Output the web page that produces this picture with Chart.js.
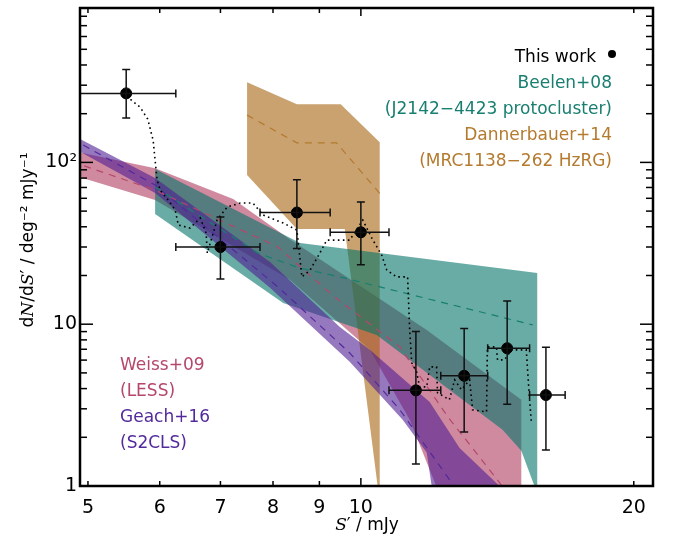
<!DOCTYPE html>
<html>
<head>
<meta charset="utf-8">
<script src="https://cdn.jsdelivr.net/npm/chart.js@4.4.1/dist/chart.umd.min.js"></script>
<style>
  html, body { margin: 0; padding: 0; background: #fff; }
  #wrap { width: 675px; height: 540px; }
</style>
</head>
<body>
<div id="wrap"><canvas id="counts"></canvas></div>
<script>
// This work (flux bins in mJy, counts in deg^-2 mJy^-1)
const fluxMid = [5.51, 7.0, 8.5, 10.0, 11.5, 13.0, 14.5, 16.0];
const fluxLow = [4.8, 6.25, 7.74, 9.25, 10.74, 12.25, 13.8, 15.35];
const fluxHigh = [6.25, 7.74, 9.25, 10.74, 12.25, 13.8, 15.35, 16.8];
const counts = [267, 30, 49, 37, 3.9, 4.8, 7.1, 3.65];
const countsLow = [188, 19, 29.4, 23.3, 1.37, 2.16, 3.2, 1.67];
const countsHigh = [375, 46, 78, 57, 9.0, 9.4, 13.9, 7.2];

// dotted curve
const dottedCurve = [
  [5.57, 245], [5.71, 219], [5.82, 185], [5.90, 137], [5.93, 103], [5.96, 78],
  [6.01, 67], [6.13, 58.5], [6.24, 50.8], [6.29, 41], [6.48, 39.3], [6.65, 45.3],
  [6.75, 36.6], [6.77, 27.5], [6.94, 44], [7.12, 53], [7.36, 56.1], [7.60, 56.1],
  [7.80, 47.3], [8.21, 42.2], [8.50, 38.2], [8.57, 24.9], [8.61, 19.6], [8.79, 21.6],
  [9.01, 27.5], [9.17, 33.1], [9.72, 33.1], [10.05, 44], [10.28, 34.1], [10.54, 26.8],
  [10.68, 21.6], [10.95, 19.6], [11.26, 19.6], [11.32, 9.22], [11.38, 5.77], [11.52, 5.08],
  [11.61, 4.10], [11.82, 4.10], [11.91, 5.45], [12.12, 5.45], [12.15, 3.77], [12.52, 3.41],
  [12.69, 4.53], [12.91, 3.93], [13.18, 4.53], [13.28, 2.96], [13.76, 2.87], [13.79, 7.24],
  [14.11, 7.24], [14.15, 6.02], [14.40, 6.02], [14.66, 6.94], [15.22, 6.94], [15.34, 3.6],
  [15.42, 2.46]
];

// literature bands (outline) and best fits
const beelenBand = [[5.93, 90.9], [8.57, 31.8], [15.65, 20.7], [15.65, 0.9], [15.03, 1.65], [14.33, 2.23], [10.41, 8.59], [8.21, 13.5], [5.93, 48.0]];
const beelenFit = [[5.93, 70.4], [7.70, 27.5], [8.57, 22.2], [9.48, 19.6], [15.47, 9.9]];
const dannerbauerBand = [[7.49, 313], [8.50, 229], [9.50, 229], [10.49, 133], [10.49, 0.9], [10.46, 0.9], [9.60, 38.7], [8.50, 38.7], [7.49, 83.5]];
const dannerbauerFit = [[7.49, 196], [8.50, 132], [9.40, 132], [10.49, 64.4]];
const weissBand = [[4.8, 118], [5.93, 92], [7.23, 59.4], [8.31, 34.1], [11.82, 9.22], [15.03, 3.41], [15.03, 0.9], [12.2, 0.9], [11.32, 2.57], [10.23, 6.94], [8.35, 18.8], [5.93, 58.5], [4.8, 84]];
const weissFit = [[4.8, 101], [5.93, 67.4], [8.10, 30.0], [9.36, 14.7], [11.04, 7.24], [12.47, 2.68], [14.22, 1.05], [14.5, 0.9]];
const geachBand = [[4.8, 148], [5.93, 80.0], [7.94, 24.2], [9.48, 9.62], [10.23, 6.94], [11.91, 3.31], [12.85, 1.72], [14.22, 1.0], [14.5, 0.9], [12.0, 0.9], [11.97, 1.0], [11.82, 1.61], [11.12, 2.57], [9.72, 5.85], [7.94, 16.8], [5.93, 64.6], [4.8, 124]];
const geachFit = [[4.8, 140], [5.93, 72.4], [8.10, 17.0], [9.72, 6.65], [11.04, 2.96], [12.59, 1.05], [12.7, 0.9]];

// axes
const xTicks = [5, 6, 7, 8, 9, 10, 20];
const xMajor = [10];
const yLabelTicks = [1, 10, 100];
const yMinor = [2, 3, 4, 5, 6, 7, 8, 9, 20, 30, 40, 50, 60, 70, 80, 90, 200, 300, 400, 500, 600, 700, 800];

const TEAL = "#187f70";
const TAN = "#b47a2e";
const PINK = "#b5476c";
const PURPLE = "#522a9c";

const pts = (arr) => arr.map(([x, y]) => ({ x, y }));

function band(data, color, order) {
  return {
    data: pts(data),
    showLine: true,
    fill: "shape",
    backgroundColor: color,
    borderWidth: 0,
    borderColor: "transparent",
    pointRadius: 0,
    order: order,
  };
}

function fit(data, color) {
  return {
    data: pts(data),
    showLine: true,
    fill: false,
    borderColor: color,
    borderWidth: 1.2,
    borderDash: [7, 6],
    pointRadius: 0,
    order: 1,
  };
}

// error bars, frame, inward ticks and texts
const decorations = {
  id: "decorations",
  afterDatasetsDraw(chart) {
    const { ctx, chartArea: { left, right, top, bottom }, scales: { x, y } } = chart;
    ctx.save();
    ctx.beginPath();
    ctx.rect(left, top, right - left, bottom - top);
    ctx.clip();
    ctx.strokeStyle = "#111";
    ctx.lineWidth = 1.5;
    const cap = 4;
    fluxMid.forEach((f, i) => {
      const px = x.getPixelForValue(f);
      const py = y.getPixelForValue(counts[i]);
      const x0 = x.getPixelForValue(fluxLow[i]);
      const x1 = x.getPixelForValue(fluxHigh[i]);
      const y0 = y.getPixelForValue(countsLow[i]);
      const y1 = y.getPixelForValue(countsHigh[i]);
      ctx.beginPath();
      ctx.moveTo(x0, py); ctx.lineTo(x1, py);
      ctx.moveTo(x0, py - cap); ctx.lineTo(x0, py + cap);
      ctx.moveTo(x1, py - cap); ctx.lineTo(x1, py + cap);
      ctx.moveTo(px, y0); ctx.lineTo(px, y1);
      ctx.moveTo(px - cap, y0); ctx.lineTo(px + cap, y0);
      ctx.moveTo(px - cap, y1); ctx.lineTo(px + cap, y1);
      ctx.stroke();
    });
    ctx.restore();
  },
  afterDraw(chart) {
    const { ctx, chartArea: { left, right, top, bottom }, scales: { x, y } } = chart;
    ctx.save();
    ctx.strokeStyle = "#000";
    ctx.lineWidth = 1.5;
    const seg = (a, b, c, d) => { ctx.beginPath(); ctx.moveTo(a, b); ctx.lineTo(c, d); ctx.stroke(); };
    xTicks.forEach(v => {
      const px = x.getPixelForValue(v);
      const len = xMajor.includes(v) ? 8 : 5;
      seg(px, bottom, px, bottom - len);
      seg(px, top, px, top + len);
    });
    yLabelTicks.forEach(v => {
      const py = y.getPixelForValue(v);
      seg(left, py, left + 13, py);
      seg(right, py, right - 13, py);
    });
    yMinor.forEach(v => {
      const py = y.getPixelForValue(v);
      seg(left, py, left + 7, py);
      seg(right, py, right - 7, py);
    });
    ctx.lineWidth = 2.5;
    ctx.strokeRect(left, top, right - left, bottom - top);

    // legend texts
    const font = "17px 'DejaVu Sans'";
    ctx.font = font;
    ctx.textAlign = "right";
    ctx.textBaseline = "alphabetic";
    ctx.fillStyle = "#000";
    ctx.fillText("This work", 596, 62);
    ctx.beginPath();
    ctx.arc(612, 54, 4, 0, Math.PI * 2);
    ctx.fill();
    ctx.fillStyle = TEAL;
    ctx.fillText("Beelen+08", 612, 88);
    ctx.fillText("(J2142\u22124423 protocluster)", 612, 114);
    ctx.fillStyle = TAN;
    ctx.fillText("Dannerbauer+14", 612, 140);
    ctx.fillText("(MRC1138\u2212262 HzRG)", 612, 166);
    ctx.textAlign = "left";
    ctx.fillStyle = PINK;
    ctx.fillText("Weiss+09", 120, 370);
    ctx.fillText("(LESS)", 120, 396);
    ctx.fillStyle = PURPLE;
    ctx.fillText("Geach+16", 120, 422);
    ctx.fillText("(S2CLS)", 120, 448);

    // axis titles with italic symbols
    const pieces = (parts, cx, cy, rotate) => {
      ctx.save();
      ctx.translate(cx, cy);
      if (rotate) ctx.rotate(-Math.PI / 2);
      ctx.fillStyle = "#000";
      ctx.textAlign = "left";
      let total = 0;
      parts.forEach(p => { ctx.font = p[1]; total += ctx.measureText(p[0]).width; });
      let pos = -total / 2;
      parts.forEach(p => {
        ctx.font = p[1];
        ctx.fillText(p[0], pos, 6);
        pos += ctx.measureText(p[0]).width;
      });
      ctx.restore();
    };
    const up = "17px 'DejaVu Sans'";
    const it = "italic 17px 'DejaVu Serif'";
    pieces([["S", it], ["\u2032 / mJy", up]], 367, 524, false);
    pieces([["d", up], ["N", it], ["/d", up], ["S", it], ["\u2032 / deg\u207B\u00B2 mJy\u207B\u00B9", up]], 27, 240, true);
    ctx.restore();
  }
};

new Chart(document.getElementById("counts"), {
  type: "scatter",
  data: {
    datasets: [
      {
        data: fluxMid.map((f, i) => ({ x: f, y: counts[i] })),
        pointRadius: 5.5,
        pointBackgroundColor: "#000",
        pointBorderColor: "#000",
        showLine: false,
        order: 0,
      },
      {
        data: pts(dottedCurve),
        showLine: true,
        borderColor: "#000",
        borderWidth: 1.6,
        borderDash: [1.6, 3.4],
        pointRadius: 0,
        order: 1,
      },
      fit(beelenFit, TEAL),
      fit(dannerbauerFit, TAN),
      fit(weissFit, PINK),
      fit(geachFit, PURPLE),
      band(geachBand, "rgba(80,30,147,0.6)", 2),
      band(beelenBand, "rgba(3,117,105,0.6)", 3),
      band(dannerbauerBand, "rgba(165,100,17,0.6)", 4),
      band(weissBand, "rgba(177,60,97,0.6)", 5),
    ],
  },
  options: {
    responsive: true,
    maintainAspectRatio: false,
    animation: false,
    layout: {
      padding: { left: 0, right: 22, top: 8, bottom: 0 },
    },
    plugins: {
      legend: { display: false },
      tooltip: { enabled: false },
    },
    scales: {
      x: {
        type: "logarithmic",
        min: 4.9,
        max: 21,
        afterBuildTicks: (scale) => { scale.ticks = xTicks.map(v => ({ value: v })); },
        afterFit: (scale) => { scale.height = 54; scale.paddingLeft = 0; scale.paddingRight = 0; },
        border: { display: false },
        grid: { display: false, drawTicks: false },
        ticks: {
          autoSkip: false,
          maxRotation: 0,
          padding: 11,
          color: "#000",
          font: { family: "DejaVu Sans", size: 19 },
          callback: (v) => String(v),
        },
      },
      y: {
        type: "logarithmic",
        min: 1,
        max: 900,
        afterBuildTicks: (scale) => { scale.ticks = yLabelTicks.map(v => ({ value: v })); },
        afterFit: (scale) => { scale.width = 80; scale.paddingTop = 0; scale.paddingBottom = 0; },
        border: { display: false },
        grid: { display: false, drawTicks: false },
        ticks: {
          autoSkip: false,
          padding: 3,
          color: "#000",
          font: { family: "DejaVu Sans", size: 19 },
          callback: (v) => (v === 100 ? "10\u00B2" : String(v)),
        },
      },
    },
  },
  plugins: [decorations],
});
</script>
</body>
</html>
